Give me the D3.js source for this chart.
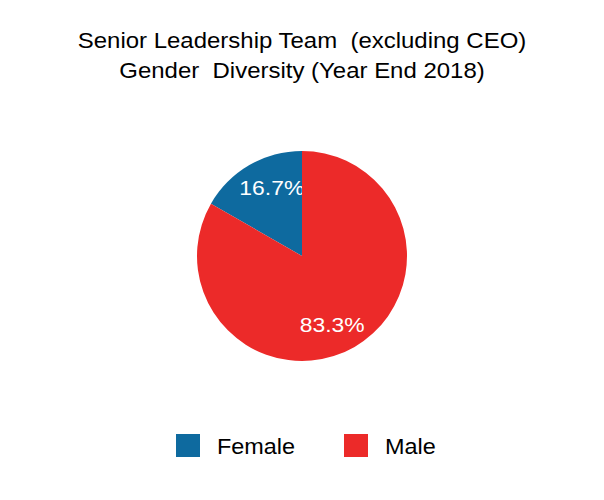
<!DOCTYPE html>
<html>
<head>
<meta charset="utf-8">
<script src="https://cdn.jsdelivr.net/npm/d3@7"></script>
<style>
  body { margin: 0; background: #fff; }
  text { font-family: "Liberation Sans", Arial, sans-serif; }
</style>
</head>
<body>
<div id="pie"></div>
<script>
// data
var categories = ["Female", "Male"];
var shares = [16.7, 83.3];
var colors = ["#0e6a9f", "#ec2a29"];
var titleLines = ["Senior Leadership Team  (excluding CEO)", "Gender  Diversity (Year End 2018)"];

var width = 604,
  height = 500,
  radius = 105,
  stretch = 1.09;   // the original type is a little wider than Arial

var svg = d3.select("#pie").append("svg")
  .attr("width", width)
  .attr("height", height);

svg.append("g").selectAll("text")
  .data(titleLines)
  .enter().append("text")
  .attr("transform", function(d, i) { return "translate(302," + (48 + i * 29.5) + ") scale(" + stretch + ",1)"; })
  .attr("text-anchor", "middle")
  .attr("font-size", "22px")
  .attr("fill", "#000")
  .style("white-space", "pre")
  .text(function(d) { return d; });

var data = categories.map(function(c, i) { return {name: c, value: shares[i], color: colors[i]}; });

// female sits just left of 12 o'clock, so draw counter-clockwise from the top
var pie = d3.pie()
  .sort(null)
  .startAngle(0)
  .endAngle(-2 * Math.PI)
  .value(function(d) { return d.value; });

var arc = d3.arc().outerRadius(radius).innerRadius(0);

var g = svg.append("g")
  .attr("transform", "translate(302,256)");

var slices = g.selectAll(".arc")
  .data(pie(data))
  .enter().append("g");

slices.append("path")
  .attr("d", arc)
  .style("fill", function(d) { return d.data.color; });

// labels sit at ~75px from centre, nudged a bit clockwise
function labelPos(d) {
  var a = (d.startAngle + d.endAngle) / 2 + 0.11;
  return [75 * Math.sin(a), -75 * Math.cos(a)];
}

slices.append("text")
  .attr("transform", function(d) { return "translate(" + labelPos(d) + ") scale(" + stretch + ",1)"; })
  .attr("dy", "0.36em")
  .attr("text-anchor", "middle")
  .attr("font-size", "21px")
  .attr("fill", "#fff")
  .text(function(d) { return d.data.value.toFixed(1) + "%"; });

// legend
var legend = svg.append("g").attr("transform", "translate(176,434)");
var item = legend.selectAll("g")
  .data(data)
  .enter().append("g")
  .attr("transform", function(d, i) { return "translate(" + i * 168 + ",0)"; });
item.append("rect")
  .attr("width", 24)
  .attr("height", 23)
  .attr("fill", function(d) { return d.color; });
item.append("text")
  .attr("transform", "translate(41,20) scale(" + stretch + ",1)")
  .attr("font-size", "21.5px")
  .attr("fill", "#000")
  .text(function(d) { return d.name; });
</script>
</body>
</html>
